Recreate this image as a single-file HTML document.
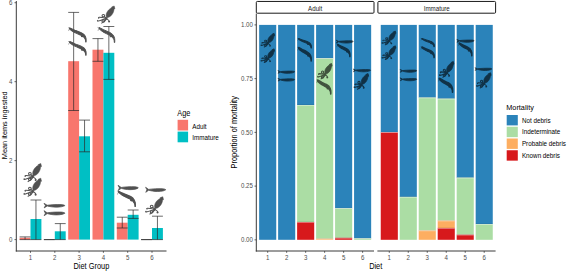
<!DOCTYPE html><html><head><meta charset="utf-8"><style>html,body{margin:0;padding:0;background:#fff;}svg{display:block}</style></head><body>
<svg width="567" height="271" viewBox="0 0 567 271" font-family='"Liberation Sans", sans-serif'>
<rect width="567" height="271" fill="#fff"/>
<rect x="19.60" y="237.80" width="10.90" height="1.80" fill="#F8766D"/>
<rect x="30.50" y="219.00" width="10.90" height="20.60" fill="#00BFC4"/>
<rect x="54.80" y="231.30" width="10.90" height="8.30" fill="#00BFC4"/>
<rect x="68.20" y="61.20" width="10.90" height="178.40" fill="#F8766D"/>
<rect x="79.10" y="136.30" width="10.90" height="103.30" fill="#00BFC4"/>
<rect x="92.50" y="49.70" width="10.90" height="189.90" fill="#F8766D"/>
<rect x="103.40" y="52.80" width="10.90" height="186.80" fill="#00BFC4"/>
<rect x="116.80" y="222.70" width="10.90" height="16.90" fill="#F8766D"/>
<rect x="127.70" y="214.80" width="10.90" height="24.80" fill="#00BFC4"/>
<rect x="152.00" y="228.00" width="10.90" height="11.60" fill="#00BFC4"/>
<g stroke="#2a2a2a" stroke-width="0.7" fill="none"><line x1="19.60" y1="236.90" x2="30.50" y2="236.90"/><line x1="19.60" y1="239.60" x2="30.50" y2="239.60"/><line x1="25.05" y1="236.90" x2="25.05" y2="239.60"/></g>
<g stroke="#2a2a2a" stroke-width="0.7" fill="none"><line x1="30.50" y1="200.00" x2="41.40" y2="200.00"/><line x1="30.50" y1="239.60" x2="41.40" y2="239.60"/><line x1="35.95" y1="200.00" x2="35.95" y2="239.60"/></g>
<g stroke="#2a2a2a" stroke-width="0.7" fill="none"><line x1="43.90" y1="239.60" x2="54.80" y2="239.60"/><line x1="43.90" y1="239.60" x2="54.80" y2="239.60"/><line x1="49.35" y1="239.60" x2="49.35" y2="239.60"/></g>
<g stroke="#2a2a2a" stroke-width="0.7" fill="none"><line x1="54.80" y1="223.60" x2="65.70" y2="223.60"/><line x1="54.80" y1="239.60" x2="65.70" y2="239.60"/><line x1="60.25" y1="223.60" x2="60.25" y2="239.60"/></g>
<g stroke="#2a2a2a" stroke-width="0.7" fill="none"><line x1="68.20" y1="12.40" x2="79.10" y2="12.40"/><line x1="68.20" y1="110.50" x2="79.10" y2="110.50"/><line x1="73.65" y1="12.40" x2="73.65" y2="110.50"/></g>
<g stroke="#2a2a2a" stroke-width="0.7" fill="none"><line x1="79.10" y1="120.10" x2="90.00" y2="120.10"/><line x1="79.10" y1="151.80" x2="90.00" y2="151.80"/><line x1="84.55" y1="120.10" x2="84.55" y2="151.80"/></g>
<g stroke="#2a2a2a" stroke-width="0.7" fill="none"><line x1="92.50" y1="38.60" x2="103.40" y2="38.60"/><line x1="92.50" y1="61.30" x2="103.40" y2="61.30"/><line x1="97.95" y1="38.60" x2="97.95" y2="61.30"/></g>
<g stroke="#2a2a2a" stroke-width="0.7" fill="none"><line x1="103.40" y1="26.50" x2="114.30" y2="26.50"/><line x1="103.40" y1="79.40" x2="114.30" y2="79.40"/><line x1="108.85" y1="26.50" x2="108.85" y2="79.40"/></g>
<g stroke="#2a2a2a" stroke-width="0.7" fill="none"><line x1="116.80" y1="217.20" x2="127.70" y2="217.20"/><line x1="116.80" y1="228.00" x2="127.70" y2="228.00"/><line x1="122.25" y1="217.20" x2="122.25" y2="228.00"/></g>
<g stroke="#2a2a2a" stroke-width="0.7" fill="none"><line x1="127.70" y1="210.00" x2="138.60" y2="210.00"/><line x1="127.70" y1="218.40" x2="138.60" y2="218.40"/><line x1="133.15" y1="210.00" x2="133.15" y2="218.40"/></g>
<g stroke="#2a2a2a" stroke-width="0.7" fill="none"><line x1="141.10" y1="239.60" x2="152.00" y2="239.60"/><line x1="141.10" y1="239.60" x2="152.00" y2="239.60"/><line x1="146.55" y1="239.60" x2="146.55" y2="239.60"/></g>
<g stroke="#2a2a2a" stroke-width="0.7" fill="none"><line x1="152.00" y1="216.20" x2="162.90" y2="216.20"/><line x1="152.00" y1="239.60" x2="162.90" y2="239.60"/><line x1="157.45" y1="216.20" x2="157.45" y2="239.60"/></g>
<g stroke="#3a3a3a" stroke-width="1" fill="none"><line x1="16.3" y1="1" x2="16.3" y2="251.5"/><line x1="15.8" y1="251.0" x2="166.5" y2="251.0"/></g>
<line x1="14.5" y1="239.60" x2="16.3" y2="239.60" stroke="#3a3a3a" stroke-width="0.8"/>
<text transform="translate(12.3,241.90) scale(0.9091,1)" font-size="6.71" fill="#4d4d4d" text-anchor="end">0</text>
<line x1="14.5" y1="160.64" x2="16.3" y2="160.64" stroke="#3a3a3a" stroke-width="0.8"/>
<text transform="translate(12.3,162.94) scale(0.9091,1)" font-size="6.71" fill="#4d4d4d" text-anchor="end">2</text>
<line x1="14.5" y1="81.68" x2="16.3" y2="81.68" stroke="#3a3a3a" stroke-width="0.8"/>
<text transform="translate(12.3,83.98) scale(0.9091,1)" font-size="6.71" fill="#4d4d4d" text-anchor="end">4</text>
<line x1="14.5" y1="2.72" x2="16.3" y2="2.72" stroke="#3a3a3a" stroke-width="0.8"/>
<text transform="translate(12.3,5.02) scale(0.9091,1)" font-size="6.71" fill="#4d4d4d" text-anchor="end">6</text>
<line x1="30.50" y1="251.0" x2="30.50" y2="252.8" stroke="#3a3a3a" stroke-width="0.8"/>
<text transform="translate(30.50,259.9) scale(0.9091,1)" font-size="6.71" fill="#4d4d4d" text-anchor="middle">1</text>
<line x1="54.80" y1="251.0" x2="54.80" y2="252.8" stroke="#3a3a3a" stroke-width="0.8"/>
<text transform="translate(54.80,259.9) scale(0.9091,1)" font-size="6.71" fill="#4d4d4d" text-anchor="middle">2</text>
<line x1="79.10" y1="251.0" x2="79.10" y2="252.8" stroke="#3a3a3a" stroke-width="0.8"/>
<text transform="translate(79.10,259.9) scale(0.9091,1)" font-size="6.71" fill="#4d4d4d" text-anchor="middle">3</text>
<line x1="103.40" y1="251.0" x2="103.40" y2="252.8" stroke="#3a3a3a" stroke-width="0.8"/>
<text transform="translate(103.40,259.9) scale(0.9091,1)" font-size="6.71" fill="#4d4d4d" text-anchor="middle">4</text>
<line x1="127.70" y1="251.0" x2="127.70" y2="252.8" stroke="#3a3a3a" stroke-width="0.8"/>
<text transform="translate(127.70,259.9) scale(0.9091,1)" font-size="6.71" fill="#4d4d4d" text-anchor="middle">5</text>
<line x1="152.00" y1="251.0" x2="152.00" y2="252.8" stroke="#3a3a3a" stroke-width="0.8"/>
<text transform="translate(152.00,259.9) scale(0.9091,1)" font-size="6.71" fill="#4d4d4d" text-anchor="middle">6</text>
<text transform="translate(91.4,268.6) scale(0.9091,1)" font-size="8.14" fill="#000" text-anchor="middle">Diet Group</text>
<text transform="translate(7.2,125.3) rotate(-90) scale(0.9091,1)" font-size="8.09" fill="#000" text-anchor="middle">Mean items ingested</text>
<g transform="translate(23.50,163.30) scale(1.0000,1.0000)" fill="#505050" stroke="#505050" stroke-width="0.5" opacity="1.0" stroke-linejoin="round"><path d="M16.80,1.40 L16.95,1.56 L17.05,1.83 L17.11,2.20 L17.13,2.67 L17.13,3.25 L17.08,3.90 L16.99,4.62 L16.83,5.38 L16.61,6.17 L16.32,6.96 L15.97,7.75 L15.56,8.51 L15.10,9.25 L14.59,9.94 L14.03,10.56 L13.41,11.09 L12.76,11.54 L12.11,11.90 L11.48,12.18 L10.92,12.39 L10.44,12.54 L10.07,12.63 L9.79,12.65 L9.60,12.60 L9.47,12.45 L9.38,12.19 L9.31,11.81 L9.25,11.31 L9.20,10.71 L9.20,10.02 L9.25,9.28 L9.39,8.51 L9.62,7.73 L9.94,6.96 L10.36,6.21 L10.84,5.49 L11.37,4.79 L11.94,4.14 L12.54,3.55 L13.17,3.02 L13.80,2.57 L14.41,2.18 L14.99,1.87 L15.50,1.63 L15.95,1.45 L16.31,1.35 L16.59,1.33 Z"/><path d="M17.3,0.2 L18.0,3.3 L15.9,2.9 L14.7,1.3 Z"/><ellipse cx="9.3" cy="13.2" rx="1.0" ry="0.9"/><g fill="none" stroke-width="1.05" stroke-linecap="round"><path d="M9.0,12.8 C8.4,12.2 7.8,11.8 7.4,11.4"/><ellipse cx="6.4" cy="10.4" rx="1.35" ry="1.25"/><path d="M8.8,13.2 C6.8,12.8 4.6,12.4 2.4,12.2 C1.4,12.1 1.2,12.9 1.8,13.2"/><path d="M8.8,13.6 C6.6,14.4 4,15.4 1.2,16.2 C0.4,16.4 0.2,15.6 0.8,15.4"/><path d="M9.0,14.0 C8.4,14.6 7.8,15.0 7.2,15.2"/><ellipse cx="6.2" cy="16.0" rx="1.25" ry="1.2"/><path d="M9.4,14.0 C8.6,15.8 7.0,17.4 4.6,18.3"/><path d="M9.8,13.8 C11.0,14.6 12.2,15.4 12.6,16.4 C12.8,17.2 11.8,17.4 11.6,16.6"/></g></g>
<g transform="translate(23.50,178.00) scale(1.0000,1.0000)" fill="#505050" stroke="#505050" stroke-width="0.5" opacity="1.0" stroke-linejoin="round"><path d="M16.80,1.40 L16.95,1.56 L17.05,1.83 L17.11,2.20 L17.13,2.67 L17.13,3.25 L17.08,3.90 L16.99,4.62 L16.83,5.38 L16.61,6.17 L16.32,6.96 L15.97,7.75 L15.56,8.51 L15.10,9.25 L14.59,9.94 L14.03,10.56 L13.41,11.09 L12.76,11.54 L12.11,11.90 L11.48,12.18 L10.92,12.39 L10.44,12.54 L10.07,12.63 L9.79,12.65 L9.60,12.60 L9.47,12.45 L9.38,12.19 L9.31,11.81 L9.25,11.31 L9.20,10.71 L9.20,10.02 L9.25,9.28 L9.39,8.51 L9.62,7.73 L9.94,6.96 L10.36,6.21 L10.84,5.49 L11.37,4.79 L11.94,4.14 L12.54,3.55 L13.17,3.02 L13.80,2.57 L14.41,2.18 L14.99,1.87 L15.50,1.63 L15.95,1.45 L16.31,1.35 L16.59,1.33 Z"/><path d="M17.3,0.2 L18.0,3.3 L15.9,2.9 L14.7,1.3 Z"/><ellipse cx="9.3" cy="13.2" rx="1.0" ry="0.9"/><g fill="none" stroke-width="1.05" stroke-linecap="round"><path d="M9.0,12.8 C8.4,12.2 7.8,11.8 7.4,11.4"/><ellipse cx="6.4" cy="10.4" rx="1.35" ry="1.25"/><path d="M8.8,13.2 C6.8,12.8 4.6,12.4 2.4,12.2 C1.4,12.1 1.2,12.9 1.8,13.2"/><path d="M8.8,13.6 C6.6,14.4 4,15.4 1.2,16.2 C0.4,16.4 0.2,15.6 0.8,15.4"/><path d="M9.0,14.0 C8.4,14.6 7.8,15.0 7.2,15.2"/><ellipse cx="6.2" cy="16.0" rx="1.25" ry="1.2"/><path d="M9.4,14.0 C8.6,15.8 7.0,17.4 4.6,18.3"/><path d="M9.8,13.8 C11.0,14.6 12.2,15.4 12.6,16.4 C12.8,17.2 11.8,17.4 11.6,16.6"/></g></g>
<g transform="translate(44.00,203.30) scale(0.9952,0.9200)" fill="#505050" stroke="#505050" stroke-width="0.75" opacity="1.0" stroke-linejoin="round"><path d="M0,0 L3.2,2.1 C7,1.5 13,1.2 17.5,1.4 C19.5,1.6 21,2.1 21,2.5 C20,3.3 17,4.2 12.5,4.2 C8.5,4.2 5.5,3.5 3.2,2.9 L0.2,5 L1.4,2.5 Z"/></g>
<g transform="translate(44.00,210.70) scale(0.9952,1.0000)" fill="#505050" stroke="#505050" stroke-width="0.75" opacity="1.0" stroke-linejoin="round"><path d="M0,0 L3.2,2.1 C7,1.5 13,1.2 17.5,1.4 C19.5,1.6 21,2.1 21,2.5 C20,3.3 17,4.2 12.5,4.2 C8.5,4.2 5.5,3.5 3.2,2.9 L0.2,5 L1.4,2.5 Z"/></g>
<g transform="translate(68.30,27.80) scale(1.0222,0.9467)" fill="#505050" stroke="#505050" stroke-width="1.0" opacity="1.0" stroke-linejoin="round"><path d="M1.4,0 C3,0.8 4.6,1.6 6.3,2.4 C8.5,3.3 10.5,4.1 12,4.8 C13.4,5.5 14.4,6.2 15.2,6.9 C16.4,8.2 17.1,9.6 17.3,11 C17.5,12.4 17.5,13.8 17.4,15 L17.0,15 C17,13.8 16.9,12.6 16.4,11.7 C15.6,10.2 14.5,9.0 13.2,8.3 C11.8,7.5 10.2,6.8 8.7,6.1 C7.2,5.4 5.8,4.7 4.6,3.9 C3.4,3.1 2.2,2.1 1.2,1.1 Z"/><ellipse cx="13.6" cy="8.9" rx="0.8" ry="0.6"/><g fill="none" stroke-width="0.45" stroke-linecap="round"><path d="M1.6,0.4 C1.1,0.2 0.6,0.1 0.1,0"/><path d="M1.4,0.8 C0.9,1.4 0.5,2.2 0.3,3.0"/></g></g>
<g transform="translate(68.30,41.50) scale(1.0222,0.9200)" fill="#505050" stroke="#505050" stroke-width="1.0" opacity="1.0" stroke-linejoin="round"><path d="M1.4,0 C3,0.8 4.6,1.6 6.3,2.4 C8.5,3.3 10.5,4.1 12,4.8 C13.4,5.5 14.4,6.2 15.2,6.9 C16.4,8.2 17.1,9.6 17.3,11 C17.5,12.4 17.5,13.8 17.4,15 L17.0,15 C17,13.8 16.9,12.6 16.4,11.7 C15.6,10.2 14.5,9.0 13.2,8.3 C11.8,7.5 10.2,6.8 8.7,6.1 C7.2,5.4 5.8,4.7 4.6,3.9 C3.4,3.1 2.2,2.1 1.2,1.1 Z"/><ellipse cx="13.6" cy="8.9" rx="0.8" ry="0.6"/><g fill="none" stroke-width="0.45" stroke-linecap="round"><path d="M1.6,0.4 C1.1,0.2 0.6,0.1 0.1,0"/><path d="M1.4,0.8 C0.9,1.4 0.5,2.2 0.3,3.0"/></g></g>
<g transform="translate(97.00,5.80) scale(0.9945,0.9459)" fill="#505050" stroke="#505050" stroke-width="0.5" opacity="1.0" stroke-linejoin="round"><path d="M16.80,1.40 L16.95,1.56 L17.05,1.83 L17.11,2.20 L17.13,2.67 L17.13,3.25 L17.08,3.90 L16.99,4.62 L16.83,5.38 L16.61,6.17 L16.32,6.96 L15.97,7.75 L15.56,8.51 L15.10,9.25 L14.59,9.94 L14.03,10.56 L13.41,11.09 L12.76,11.54 L12.11,11.90 L11.48,12.18 L10.92,12.39 L10.44,12.54 L10.07,12.63 L9.79,12.65 L9.60,12.60 L9.47,12.45 L9.38,12.19 L9.31,11.81 L9.25,11.31 L9.20,10.71 L9.20,10.02 L9.25,9.28 L9.39,8.51 L9.62,7.73 L9.94,6.96 L10.36,6.21 L10.84,5.49 L11.37,4.79 L11.94,4.14 L12.54,3.55 L13.17,3.02 L13.80,2.57 L14.41,2.18 L14.99,1.87 L15.50,1.63 L15.95,1.45 L16.31,1.35 L16.59,1.33 Z"/><path d="M17.3,0.2 L18.0,3.3 L15.9,2.9 L14.7,1.3 Z"/><ellipse cx="9.3" cy="13.2" rx="1.0" ry="0.9"/><g fill="none" stroke-width="1.05" stroke-linecap="round"><path d="M9.0,12.8 C8.4,12.2 7.8,11.8 7.4,11.4"/><ellipse cx="6.4" cy="10.4" rx="1.35" ry="1.25"/><path d="M8.8,13.2 C6.8,12.8 4.6,12.4 2.4,12.2 C1.4,12.1 1.2,12.9 1.8,13.2"/><path d="M8.8,13.6 C6.6,14.4 4,15.4 1.2,16.2 C0.4,16.4 0.2,15.6 0.8,15.4"/><path d="M9.0,14.0 C8.4,14.6 7.8,15.0 7.2,15.2"/><ellipse cx="6.2" cy="16.0" rx="1.25" ry="1.2"/><path d="M9.4,14.0 C8.6,15.8 7.0,17.4 4.6,18.3"/><path d="M9.8,13.8 C11.0,14.6 12.2,15.4 12.6,16.4 C12.8,17.2 11.8,17.4 11.6,16.6"/></g></g>
<g transform="translate(97.80,27.50) scale(0.9722,1.0000)" fill="#505050" stroke="#505050" stroke-width="1.0" opacity="1.0" stroke-linejoin="round"><path d="M1.4,0 C3,0.8 4.6,1.6 6.3,2.4 C8.5,3.3 10.5,4.1 12,4.8 C13.4,5.5 14.4,6.2 15.2,6.9 C16.4,8.2 17.1,9.6 17.3,11 C17.5,12.4 17.5,13.8 17.4,15 L17.0,15 C17,13.8 16.9,12.6 16.4,11.7 C15.6,10.2 14.5,9.0 13.2,8.3 C11.8,7.5 10.2,6.8 8.7,6.1 C7.2,5.4 5.8,4.7 4.6,3.9 C3.4,3.1 2.2,2.1 1.2,1.1 Z"/><ellipse cx="13.6" cy="8.9" rx="0.8" ry="0.6"/><g fill="none" stroke-width="0.45" stroke-linecap="round"><path d="M1.6,0.4 C1.1,0.2 0.6,0.1 0.1,0"/><path d="M1.4,0.8 C0.9,1.4 0.5,2.2 0.3,3.0"/></g></g>
<g transform="translate(118.10,185.30) scale(0.9619,1.0400)" fill="#505050" stroke="#505050" stroke-width="0.75" opacity="1.0" stroke-linejoin="round"><path d="M0,0 L3.2,2.1 C7,1.5 13,1.2 17.5,1.4 C19.5,1.6 21,2.1 21,2.5 C20,3.3 17,4.2 12.5,4.2 C8.5,4.2 5.5,3.5 3.2,2.9 L0.2,5 L1.4,2.5 Z"/></g>
<g transform="translate(117.20,191.10) scale(1.0444,1.0333)" fill="#505050" stroke="#505050" stroke-width="1.0" opacity="1.0" stroke-linejoin="round"><path d="M1.4,0 C3,0.8 4.6,1.6 6.3,2.4 C8.5,3.3 10.5,4.1 12,4.8 C13.4,5.5 14.4,6.2 15.2,6.9 C16.4,8.2 17.1,9.6 17.3,11 C17.5,12.4 17.5,13.8 17.4,15 L17.0,15 C17,13.8 16.9,12.6 16.4,11.7 C15.6,10.2 14.5,9.0 13.2,8.3 C11.8,7.5 10.2,6.8 8.7,6.1 C7.2,5.4 5.8,4.7 4.6,3.9 C3.4,3.1 2.2,2.1 1.2,1.1 Z"/><ellipse cx="13.6" cy="8.9" rx="0.8" ry="0.6"/><g fill="none" stroke-width="0.45" stroke-linecap="round"><path d="M1.6,0.4 C1.1,0.2 0.6,0.1 0.1,0"/><path d="M1.4,0.8 C0.9,1.4 0.5,2.2 0.3,3.0"/></g></g>
<g transform="translate(145.60,187.30) scale(0.9619,1.0000)" fill="#505050" stroke="#505050" stroke-width="0.75" opacity="1.0" stroke-linejoin="round"><path d="M0,0 L3.2,2.1 C7,1.5 13,1.2 17.5,1.4 C19.5,1.6 21,2.1 21,2.5 C20,3.3 17,4.2 12.5,4.2 C8.5,4.2 5.5,3.5 3.2,2.9 L0.2,5 L1.4,2.5 Z"/></g>
<g transform="translate(145.20,196.50) scale(1.0166,0.9568)" fill="#505050" stroke="#505050" stroke-width="0.5" opacity="1.0" stroke-linejoin="round"><path d="M16.80,1.40 L16.95,1.56 L17.05,1.83 L17.11,2.20 L17.13,2.67 L17.13,3.25 L17.08,3.90 L16.99,4.62 L16.83,5.38 L16.61,6.17 L16.32,6.96 L15.97,7.75 L15.56,8.51 L15.10,9.25 L14.59,9.94 L14.03,10.56 L13.41,11.09 L12.76,11.54 L12.11,11.90 L11.48,12.18 L10.92,12.39 L10.44,12.54 L10.07,12.63 L9.79,12.65 L9.60,12.60 L9.47,12.45 L9.38,12.19 L9.31,11.81 L9.25,11.31 L9.20,10.71 L9.20,10.02 L9.25,9.28 L9.39,8.51 L9.62,7.73 L9.94,6.96 L10.36,6.21 L10.84,5.49 L11.37,4.79 L11.94,4.14 L12.54,3.55 L13.17,3.02 L13.80,2.57 L14.41,2.18 L14.99,1.87 L15.50,1.63 L15.95,1.45 L16.31,1.35 L16.59,1.33 Z"/><path d="M17.3,0.2 L18.0,3.3 L15.9,2.9 L14.7,1.3 Z"/><ellipse cx="9.3" cy="13.2" rx="1.0" ry="0.9"/><g fill="none" stroke-width="1.05" stroke-linecap="round"><path d="M9.0,12.8 C8.4,12.2 7.8,11.8 7.4,11.4"/><ellipse cx="6.4" cy="10.4" rx="1.35" ry="1.25"/><path d="M8.8,13.2 C6.8,12.8 4.6,12.4 2.4,12.2 C1.4,12.1 1.2,12.9 1.8,13.2"/><path d="M8.8,13.6 C6.6,14.4 4,15.4 1.2,16.2 C0.4,16.4 0.2,15.6 0.8,15.4"/><path d="M9.0,14.0 C8.4,14.6 7.8,15.0 7.2,15.2"/><ellipse cx="6.2" cy="16.0" rx="1.25" ry="1.2"/><path d="M9.4,14.0 C8.6,15.8 7.0,17.4 4.6,18.3"/><path d="M9.8,13.8 C11.0,14.6 12.2,15.4 12.6,16.4 C12.8,17.2 11.8,17.4 11.6,16.6"/></g></g>
<text transform="translate(177.2,116.1) scale(0.9091,1)" font-size="8.14" fill="#000">Age</text>
<rect x="177.6" y="119.8" width="10.5" height="10.7" fill="#F8766D"/>
<rect x="177.6" y="131.6" width="10.5" height="10.7" fill="#00BFC4"/>
<text transform="translate(192.2,128.8) scale(0.9091,1)" font-size="6.93" fill="#000">Adult</text>
<text transform="translate(192.2,140.4) scale(0.9091,1)" font-size="6.93" fill="#000">Immature</text>
<rect x="259.15" y="24.90" width="17.09" height="214.90" fill="#2B83BA"/>
<rect x="278.13" y="24.90" width="17.09" height="214.90" fill="#2B83BA"/>
<rect x="297.12" y="24.90" width="17.09" height="80.10" fill="#2B83BA"/>
<rect x="297.12" y="105.00" width="17.09" height="117.00" fill="#ABDDA4"/>
<rect x="297.12" y="222.00" width="17.09" height="17.80" fill="#D7191C"/>
<rect x="297.12" y="104.55" width="17.09" height="0.5" fill="#000" opacity="0.15"/>
<rect x="297.12" y="105.00" width="17.09" height="0.7" fill="#fff" opacity="0.55"/>
<rect x="297.12" y="221.55" width="17.09" height="0.5" fill="#000" opacity="0.15"/>
<rect x="297.12" y="222.00" width="17.09" height="0.7" fill="#fff" opacity="0.55"/>
<rect x="316.10" y="24.90" width="17.09" height="33.40" fill="#2B83BA"/>
<rect x="316.10" y="58.30" width="17.09" height="180.40" fill="#ABDDA4"/>
<rect x="316.10" y="238.70" width="17.09" height="1.10" fill="#FDAE61"/>
<rect x="316.10" y="57.85" width="17.09" height="0.5" fill="#000" opacity="0.15"/>
<rect x="316.10" y="58.30" width="17.09" height="0.7" fill="#fff" opacity="0.55"/>
<rect x="316.10" y="238.25" width="17.09" height="0.5" fill="#000" opacity="0.15"/>
<rect x="316.10" y="238.70" width="17.09" height="0.7" fill="#fff" opacity="0.55"/>
<rect x="335.08" y="24.90" width="17.09" height="183.40" fill="#2B83BA"/>
<rect x="335.08" y="208.30" width="17.09" height="29.50" fill="#ABDDA4"/>
<rect x="335.08" y="237.80" width="17.09" height="2.00" fill="#D7191C"/>
<rect x="335.08" y="207.85" width="17.09" height="0.5" fill="#000" opacity="0.15"/>
<rect x="335.08" y="208.30" width="17.09" height="0.7" fill="#fff" opacity="0.55"/>
<rect x="335.08" y="237.35" width="17.09" height="0.5" fill="#000" opacity="0.15"/>
<rect x="335.08" y="237.80" width="17.09" height="0.7" fill="#fff" opacity="0.55"/>
<rect x="354.07" y="24.90" width="17.09" height="213.50" fill="#2B83BA"/>
<rect x="354.07" y="238.40" width="17.09" height="1.40" fill="#ABDDA4"/>
<rect x="354.07" y="237.95" width="17.09" height="0.5" fill="#000" opacity="0.15"/>
<rect x="354.07" y="238.40" width="17.09" height="0.7" fill="#fff" opacity="0.55"/>
<rect x="256.30" y="1.45" width="117.70" height="11.75" rx="1" fill="#fff" stroke="#1a1a1a" stroke-width="1"/>
<text transform="translate(315.15,10.7) scale(0.9091,1)" font-size="6.82" fill="#1a1a1a" text-anchor="middle">Adult</text>
<line x1="255.80" y1="251.0" x2="374.00" y2="251.0" stroke="#3a3a3a" stroke-width="1"/>
<line x1="267.69" y1="251.0" x2="267.69" y2="252.8" stroke="#3a3a3a" stroke-width="0.8"/>
<text transform="translate(267.69,259.9) scale(0.9091,1)" font-size="6.71" fill="#4d4d4d" text-anchor="middle">1</text>
<line x1="286.67" y1="251.0" x2="286.67" y2="252.8" stroke="#3a3a3a" stroke-width="0.8"/>
<text transform="translate(286.67,259.9) scale(0.9091,1)" font-size="6.71" fill="#4d4d4d" text-anchor="middle">2</text>
<line x1="305.66" y1="251.0" x2="305.66" y2="252.8" stroke="#3a3a3a" stroke-width="0.8"/>
<text transform="translate(305.66,259.9) scale(0.9091,1)" font-size="6.71" fill="#4d4d4d" text-anchor="middle">3</text>
<line x1="324.64" y1="251.0" x2="324.64" y2="252.8" stroke="#3a3a3a" stroke-width="0.8"/>
<text transform="translate(324.64,259.9) scale(0.9091,1)" font-size="6.71" fill="#4d4d4d" text-anchor="middle">4</text>
<line x1="343.63" y1="251.0" x2="343.63" y2="252.8" stroke="#3a3a3a" stroke-width="0.8"/>
<text transform="translate(343.63,259.9) scale(0.9091,1)" font-size="6.71" fill="#4d4d4d" text-anchor="middle">5</text>
<line x1="362.61" y1="251.0" x2="362.61" y2="252.8" stroke="#3a3a3a" stroke-width="0.8"/>
<text transform="translate(362.61,259.9) scale(0.9091,1)" font-size="6.71" fill="#4d4d4d" text-anchor="middle">6</text>
<rect x="380.75" y="24.90" width="17.09" height="107.40" fill="#2B83BA"/>
<rect x="380.75" y="132.30" width="17.09" height="107.50" fill="#D7191C"/>
<rect x="380.75" y="131.85" width="17.09" height="0.5" fill="#000" opacity="0.15"/>
<rect x="380.75" y="132.30" width="17.09" height="0.7" fill="#fff" opacity="0.55"/>
<rect x="399.73" y="24.90" width="17.09" height="172.00" fill="#2B83BA"/>
<rect x="399.73" y="196.90" width="17.09" height="42.90" fill="#ABDDA4"/>
<rect x="399.73" y="196.45" width="17.09" height="0.5" fill="#000" opacity="0.15"/>
<rect x="399.73" y="196.90" width="17.09" height="0.7" fill="#fff" opacity="0.55"/>
<rect x="418.72" y="24.90" width="17.09" height="72.70" fill="#2B83BA"/>
<rect x="418.72" y="97.60" width="17.09" height="132.90" fill="#ABDDA4"/>
<rect x="418.72" y="230.50" width="17.09" height="9.30" fill="#FDAE61"/>
<rect x="418.72" y="97.15" width="17.09" height="0.5" fill="#000" opacity="0.15"/>
<rect x="418.72" y="97.60" width="17.09" height="0.7" fill="#fff" opacity="0.55"/>
<rect x="418.72" y="230.05" width="17.09" height="0.5" fill="#000" opacity="0.15"/>
<rect x="418.72" y="230.50" width="17.09" height="0.7" fill="#fff" opacity="0.55"/>
<rect x="437.70" y="24.90" width="17.09" height="73.80" fill="#2B83BA"/>
<rect x="437.70" y="98.70" width="17.09" height="121.90" fill="#ABDDA4"/>
<rect x="437.70" y="220.60" width="17.09" height="7.40" fill="#FDAE61"/>
<rect x="437.70" y="228.00" width="17.09" height="11.80" fill="#D7191C"/>
<rect x="437.70" y="98.25" width="17.09" height="0.5" fill="#000" opacity="0.15"/>
<rect x="437.70" y="98.70" width="17.09" height="0.7" fill="#fff" opacity="0.55"/>
<rect x="437.70" y="220.15" width="17.09" height="0.5" fill="#000" opacity="0.15"/>
<rect x="437.70" y="220.60" width="17.09" height="0.7" fill="#fff" opacity="0.55"/>
<rect x="437.70" y="227.55" width="17.09" height="0.5" fill="#000" opacity="0.15"/>
<rect x="437.70" y="228.00" width="17.09" height="0.7" fill="#fff" opacity="0.55"/>
<rect x="456.68" y="24.90" width="17.09" height="152.80" fill="#2B83BA"/>
<rect x="456.68" y="177.70" width="17.09" height="57.00" fill="#ABDDA4"/>
<rect x="456.68" y="234.70" width="17.09" height="5.10" fill="#D7191C"/>
<rect x="456.68" y="177.25" width="17.09" height="0.5" fill="#000" opacity="0.15"/>
<rect x="456.68" y="177.70" width="17.09" height="0.7" fill="#fff" opacity="0.55"/>
<rect x="456.68" y="234.25" width="17.09" height="0.5" fill="#000" opacity="0.15"/>
<rect x="456.68" y="234.70" width="17.09" height="0.7" fill="#fff" opacity="0.55"/>
<rect x="475.67" y="24.90" width="17.09" height="199.20" fill="#2B83BA"/>
<rect x="475.67" y="224.10" width="17.09" height="15.70" fill="#ABDDA4"/>
<rect x="475.67" y="223.65" width="17.09" height="0.5" fill="#000" opacity="0.15"/>
<rect x="475.67" y="224.10" width="17.09" height="0.7" fill="#fff" opacity="0.55"/>
<rect x="377.90" y="1.45" width="117.70" height="11.75" rx="1" fill="#fff" stroke="#1a1a1a" stroke-width="1"/>
<text transform="translate(436.75,10.7) scale(0.9091,1)" font-size="6.82" fill="#1a1a1a" text-anchor="middle">Immature</text>
<line x1="377.40" y1="251.0" x2="495.60" y2="251.0" stroke="#3a3a3a" stroke-width="1"/>
<line x1="389.29" y1="251.0" x2="389.29" y2="252.8" stroke="#3a3a3a" stroke-width="0.8"/>
<text transform="translate(389.29,259.9) scale(0.9091,1)" font-size="6.71" fill="#4d4d4d" text-anchor="middle">1</text>
<line x1="408.27" y1="251.0" x2="408.27" y2="252.8" stroke="#3a3a3a" stroke-width="0.8"/>
<text transform="translate(408.27,259.9) scale(0.9091,1)" font-size="6.71" fill="#4d4d4d" text-anchor="middle">2</text>
<line x1="427.26" y1="251.0" x2="427.26" y2="252.8" stroke="#3a3a3a" stroke-width="0.8"/>
<text transform="translate(427.26,259.9) scale(0.9091,1)" font-size="6.71" fill="#4d4d4d" text-anchor="middle">3</text>
<line x1="446.24" y1="251.0" x2="446.24" y2="252.8" stroke="#3a3a3a" stroke-width="0.8"/>
<text transform="translate(446.24,259.9) scale(0.9091,1)" font-size="6.71" fill="#4d4d4d" text-anchor="middle">4</text>
<line x1="465.23" y1="251.0" x2="465.23" y2="252.8" stroke="#3a3a3a" stroke-width="0.8"/>
<text transform="translate(465.23,259.9) scale(0.9091,1)" font-size="6.71" fill="#4d4d4d" text-anchor="middle">5</text>
<line x1="484.21" y1="251.0" x2="484.21" y2="252.8" stroke="#3a3a3a" stroke-width="0.8"/>
<text transform="translate(484.21,259.9) scale(0.9091,1)" font-size="6.71" fill="#4d4d4d" text-anchor="middle">6</text>
<line x1="256.3" y1="13.6" x2="256.3" y2="251.5" stroke="#3a3a3a" stroke-width="1"/>
<line x1="254.5" y1="239.85" x2="256.3" y2="239.85" stroke="#3a3a3a" stroke-width="0.8"/>
<text transform="translate(252.9,242.15) scale(0.9091,1)" font-size="6.71" fill="#4d4d4d" text-anchor="end">0.00</text>
<line x1="254.5" y1="186.11" x2="256.3" y2="186.11" stroke="#3a3a3a" stroke-width="0.8"/>
<text transform="translate(252.9,188.41) scale(0.9091,1)" font-size="6.71" fill="#4d4d4d" text-anchor="end">0.25</text>
<line x1="254.5" y1="132.38" x2="256.3" y2="132.38" stroke="#3a3a3a" stroke-width="0.8"/>
<text transform="translate(252.9,134.68) scale(0.9091,1)" font-size="6.71" fill="#4d4d4d" text-anchor="end">0.50</text>
<line x1="254.5" y1="78.64" x2="256.3" y2="78.64" stroke="#3a3a3a" stroke-width="0.8"/>
<text transform="translate(252.9,80.94) scale(0.9091,1)" font-size="6.71" fill="#4d4d4d" text-anchor="end">0.75</text>
<line x1="254.5" y1="24.90" x2="256.3" y2="24.90" stroke="#3a3a3a" stroke-width="0.8"/>
<text transform="translate(252.9,27.20) scale(0.9091,1)" font-size="6.71" fill="#4d4d4d" text-anchor="end">1.00</text>
<text transform="translate(375.7,268.6) scale(0.9091,1)" font-size="8.14" fill="#000" text-anchor="middle">Diet</text>
<text transform="translate(237.4,132.3) rotate(-90) scale(0.9091,1)" font-size="8.14" fill="#000" text-anchor="middle">Proportion of mortality</text>
<g transform="translate(260.70,33.20) scale(0.7735,0.7568)" fill="#000" stroke="#000" stroke-width="1.0" opacity="0.62" stroke-linejoin="round"><path d="M16.80,1.40 L16.95,1.56 L17.05,1.83 L17.11,2.20 L17.13,2.67 L17.13,3.25 L17.08,3.90 L16.99,4.62 L16.83,5.38 L16.61,6.17 L16.32,6.96 L15.97,7.75 L15.56,8.51 L15.10,9.25 L14.59,9.94 L14.03,10.56 L13.41,11.09 L12.76,11.54 L12.11,11.90 L11.48,12.18 L10.92,12.39 L10.44,12.54 L10.07,12.63 L9.79,12.65 L9.60,12.60 L9.47,12.45 L9.38,12.19 L9.31,11.81 L9.25,11.31 L9.20,10.71 L9.20,10.02 L9.25,9.28 L9.39,8.51 L9.62,7.73 L9.94,6.96 L10.36,6.21 L10.84,5.49 L11.37,4.79 L11.94,4.14 L12.54,3.55 L13.17,3.02 L13.80,2.57 L14.41,2.18 L14.99,1.87 L15.50,1.63 L15.95,1.45 L16.31,1.35 L16.59,1.33 Z"/><path d="M17.3,0.2 L18.0,3.3 L15.9,2.9 L14.7,1.3 Z"/><ellipse cx="9.3" cy="13.2" rx="1.0" ry="0.9"/><g fill="none" stroke-width="1.3" stroke-linecap="round"><path d="M9.0,12.8 C8.4,12.2 7.8,11.8 7.4,11.4"/><ellipse cx="6.4" cy="10.4" rx="1.35" ry="1.25"/><path d="M8.8,13.2 C6.8,12.8 4.6,12.4 2.4,12.2 C1.4,12.1 1.2,12.9 1.8,13.2"/><path d="M8.8,13.6 C6.6,14.4 4,15.4 1.2,16.2 C0.4,16.4 0.2,15.6 0.8,15.4"/><path d="M9.0,14.0 C8.4,14.6 7.8,15.0 7.2,15.2"/><ellipse cx="6.2" cy="16.0" rx="1.25" ry="1.2"/><path d="M9.4,14.0 C8.6,15.8 7.0,17.4 4.6,18.3"/><path d="M9.8,13.8 C11.0,14.6 12.2,15.4 12.6,16.4 C12.8,17.2 11.8,17.4 11.6,16.6"/></g></g>
<g transform="translate(260.70,48.70) scale(0.7735,0.7568)" fill="#000" stroke="#000" stroke-width="1.0" opacity="0.62" stroke-linejoin="round"><path d="M16.80,1.40 L16.95,1.56 L17.05,1.83 L17.11,2.20 L17.13,2.67 L17.13,3.25 L17.08,3.90 L16.99,4.62 L16.83,5.38 L16.61,6.17 L16.32,6.96 L15.97,7.75 L15.56,8.51 L15.10,9.25 L14.59,9.94 L14.03,10.56 L13.41,11.09 L12.76,11.54 L12.11,11.90 L11.48,12.18 L10.92,12.39 L10.44,12.54 L10.07,12.63 L9.79,12.65 L9.60,12.60 L9.47,12.45 L9.38,12.19 L9.31,11.81 L9.25,11.31 L9.20,10.71 L9.20,10.02 L9.25,9.28 L9.39,8.51 L9.62,7.73 L9.94,6.96 L10.36,6.21 L10.84,5.49 L11.37,4.79 L11.94,4.14 L12.54,3.55 L13.17,3.02 L13.80,2.57 L14.41,2.18 L14.99,1.87 L15.50,1.63 L15.95,1.45 L16.31,1.35 L16.59,1.33 Z"/><path d="M17.3,0.2 L18.0,3.3 L15.9,2.9 L14.7,1.3 Z"/><ellipse cx="9.3" cy="13.2" rx="1.0" ry="0.9"/><g fill="none" stroke-width="1.3" stroke-linecap="round"><path d="M9.0,12.8 C8.4,12.2 7.8,11.8 7.4,11.4"/><ellipse cx="6.4" cy="10.4" rx="1.35" ry="1.25"/><path d="M8.8,13.2 C6.8,12.8 4.6,12.4 2.4,12.2 C1.4,12.1 1.2,12.9 1.8,13.2"/><path d="M8.8,13.6 C6.6,14.4 4,15.4 1.2,16.2 C0.4,16.4 0.2,15.6 0.8,15.4"/><path d="M9.0,14.0 C8.4,14.6 7.8,15.0 7.2,15.2"/><ellipse cx="6.2" cy="16.0" rx="1.25" ry="1.2"/><path d="M9.4,14.0 C8.6,15.8 7.0,17.4 4.6,18.3"/><path d="M9.8,13.8 C11.0,14.6 12.2,15.4 12.6,16.4 C12.8,17.2 11.8,17.4 11.6,16.6"/></g></g>
<g transform="translate(277.90,70.20) scale(0.8000,0.7200)" fill="#000" stroke="#000" stroke-width="1.0" opacity="0.62" stroke-linejoin="round"><path d="M0,0.4 L3,2.0 C7,1.4 14,1.1 18.5,1.3 C20,1.4 21,1.9 21,2.3 C20.2,3.2 17.5,4.3 13,4.4 C8.5,4.5 5.5,3.6 3,2.7 L0.2,4.4 L1.3,2.3 Z"/></g>
<g transform="translate(277.90,77.95) scale(0.8000,0.7200)" fill="#000" stroke="#000" stroke-width="1.0" opacity="0.62" stroke-linejoin="round"><path d="M0,0.4 L3,2.0 C7,1.4 14,1.1 18.5,1.3 C20,1.4 21,1.9 21,2.3 C20.2,3.2 17.5,4.3 13,4.4 C8.5,4.5 5.5,3.6 3,2.7 L0.2,4.4 L1.3,2.3 Z"/></g>
<g transform="translate(297.60,38.40) scale(0.7889,0.6467)" fill="#000" stroke="#000" stroke-width="1.5" opacity="0.62" stroke-linejoin="round"><path d="M1.4,0 C3,0.8 4.6,1.6 6.3,2.4 C8.5,3.3 10.5,4.1 12,4.8 C13.4,5.5 14.4,6.2 15.2,6.9 C16.4,8.2 17.1,9.6 17.3,11 C17.5,12.4 17.5,13.8 17.4,15 L17.0,15 C17,13.8 16.9,12.6 16.4,11.7 C15.6,10.2 14.5,9.0 13.2,8.3 C11.8,7.5 10.2,6.8 8.7,6.1 C7.2,5.4 5.8,4.7 4.6,3.9 C3.4,3.1 2.2,2.1 1.2,1.1 Z"/><ellipse cx="13.6" cy="8.9" rx="0.8" ry="0.6"/><g fill="none" stroke-width="0.45" stroke-linecap="round"><path d="M1.6,0.4 C1.1,0.2 0.6,0.1 0.1,0"/><path d="M1.4,0.8 C0.9,1.4 0.5,2.2 0.3,3.0"/></g></g>
<g transform="translate(297.60,47.40) scale(0.7889,0.9067)" fill="#000" stroke="#000" stroke-width="1.5" opacity="0.62" stroke-linejoin="round"><path d="M1.4,0 C3,0.8 4.6,1.6 6.3,2.4 C8.5,3.3 10.5,4.1 12,4.8 C13.4,5.5 14.4,6.2 15.2,6.9 C16.4,8.2 17.1,9.6 17.3,11 C17.5,12.4 17.5,13.8 17.4,15 L17.0,15 C17,13.8 16.9,12.6 16.4,11.7 C15.6,10.2 14.5,9.0 13.2,8.3 C11.8,7.5 10.2,6.8 8.7,6.1 C7.2,5.4 5.8,4.7 4.6,3.9 C3.4,3.1 2.2,2.1 1.2,1.1 Z"/><ellipse cx="13.6" cy="8.9" rx="0.8" ry="0.6"/><g fill="none" stroke-width="0.45" stroke-linecap="round"><path d="M1.6,0.4 C1.1,0.2 0.6,0.1 0.1,0"/><path d="M1.4,0.8 C0.9,1.4 0.5,2.2 0.3,3.0"/></g></g>
<g transform="translate(317.30,63.30) scale(0.8232,0.8486)" fill="#000" stroke="#000" stroke-width="1.0" opacity="0.62" stroke-linejoin="round"><path d="M16.80,1.40 L16.95,1.56 L17.05,1.83 L17.11,2.20 L17.13,2.67 L17.13,3.25 L17.08,3.90 L16.99,4.62 L16.83,5.38 L16.61,6.17 L16.32,6.96 L15.97,7.75 L15.56,8.51 L15.10,9.25 L14.59,9.94 L14.03,10.56 L13.41,11.09 L12.76,11.54 L12.11,11.90 L11.48,12.18 L10.92,12.39 L10.44,12.54 L10.07,12.63 L9.79,12.65 L9.60,12.60 L9.47,12.45 L9.38,12.19 L9.31,11.81 L9.25,11.31 L9.20,10.71 L9.20,10.02 L9.25,9.28 L9.39,8.51 L9.62,7.73 L9.94,6.96 L10.36,6.21 L10.84,5.49 L11.37,4.79 L11.94,4.14 L12.54,3.55 L13.17,3.02 L13.80,2.57 L14.41,2.18 L14.99,1.87 L15.50,1.63 L15.95,1.45 L16.31,1.35 L16.59,1.33 Z"/><path d="M17.3,0.2 L18.0,3.3 L15.9,2.9 L14.7,1.3 Z"/><ellipse cx="9.3" cy="13.2" rx="1.0" ry="0.9"/><g fill="none" stroke-width="1.3" stroke-linecap="round"><path d="M9.0,12.8 C8.4,12.2 7.8,11.8 7.4,11.4"/><ellipse cx="6.4" cy="10.4" rx="1.35" ry="1.25"/><path d="M8.8,13.2 C6.8,12.8 4.6,12.4 2.4,12.2 C1.4,12.1 1.2,12.9 1.8,13.2"/><path d="M8.8,13.6 C6.6,14.4 4,15.4 1.2,16.2 C0.4,16.4 0.2,15.6 0.8,15.4"/><path d="M9.0,14.0 C8.4,14.6 7.8,15.0 7.2,15.2"/><ellipse cx="6.2" cy="16.0" rx="1.25" ry="1.2"/><path d="M9.4,14.0 C8.6,15.8 7.0,17.4 4.6,18.3"/><path d="M9.8,13.8 C11.0,14.6 12.2,15.4 12.6,16.4 C12.8,17.2 11.8,17.4 11.6,16.6"/></g></g>
<g transform="translate(316.50,79.90) scale(0.8278,0.9400)" fill="#000" stroke="#000" stroke-width="1.5" opacity="0.62" stroke-linejoin="round"><path d="M1.4,0 C3,0.8 4.6,1.6 6.3,2.4 C8.5,3.3 10.5,4.1 12,4.8 C13.4,5.5 14.4,6.2 15.2,6.9 C16.4,8.2 17.1,9.6 17.3,11 C17.5,12.4 17.5,13.8 17.4,15 L17.0,15 C17,13.8 16.9,12.6 16.4,11.7 C15.6,10.2 14.5,9.0 13.2,8.3 C11.8,7.5 10.2,6.8 8.7,6.1 C7.2,5.4 5.8,4.7 4.6,3.9 C3.4,3.1 2.2,2.1 1.2,1.1 Z"/><ellipse cx="13.6" cy="8.9" rx="0.8" ry="0.6"/><g fill="none" stroke-width="0.45" stroke-linecap="round"><path d="M1.6,0.4 C1.1,0.2 0.6,0.1 0.1,0"/><path d="M1.4,0.8 C0.9,1.4 0.5,2.2 0.3,3.0"/></g></g>
<g transform="translate(336.20,39.90) scale(0.8143,0.7200)" fill="#000" stroke="#000" stroke-width="1.0" opacity="0.62" stroke-linejoin="round"><path d="M0,0.4 L3,2.0 C7,1.4 14,1.1 18.5,1.3 C20,1.4 21,1.9 21,2.3 C20.2,3.2 17.5,4.3 13,4.4 C8.5,4.5 5.5,3.6 3,2.7 L0.2,4.4 L1.3,2.3 Z"/></g>
<g transform="translate(336.70,44.20) scale(0.7667,0.8333)" fill="#000" stroke="#000" stroke-width="1.5" opacity="0.62" stroke-linejoin="round"><path d="M1.4,0 C3,0.8 4.6,1.6 6.3,2.4 C8.5,3.3 10.5,4.1 12,4.8 C13.4,5.5 14.4,6.2 15.2,6.9 C16.4,8.2 17.1,9.6 17.3,11 C17.5,12.4 17.5,13.8 17.4,15 L17.0,15 C17,13.8 16.9,12.6 16.4,11.7 C15.6,10.2 14.5,9.0 13.2,8.3 C11.8,7.5 10.2,6.8 8.7,6.1 C7.2,5.4 5.8,4.7 4.6,3.9 C3.4,3.1 2.2,2.1 1.2,1.1 Z"/><ellipse cx="13.6" cy="8.9" rx="0.8" ry="0.6"/><g fill="none" stroke-width="0.45" stroke-linecap="round"><path d="M1.6,0.4 C1.1,0.2 0.6,0.1 0.1,0"/><path d="M1.4,0.8 C0.9,1.4 0.5,2.2 0.3,3.0"/></g></g>
<g transform="translate(353.20,68.65) scale(0.8238,0.7200)" fill="#000" stroke="#000" stroke-width="1.0" opacity="0.62" stroke-linejoin="round"><path d="M0,0.4 L3,2.0 C7,1.4 14,1.1 18.5,1.3 C20,1.4 21,1.9 21,2.3 C20.2,3.2 17.5,4.3 13,4.4 C8.5,4.5 5.5,3.6 3,2.7 L0.2,4.4 L1.3,2.3 Z"/></g>
<g transform="translate(353.70,73.40) scale(0.8287,0.8649)" fill="#000" stroke="#000" stroke-width="1.0" opacity="0.62" stroke-linejoin="round"><path d="M16.80,1.40 L16.95,1.56 L17.05,1.83 L17.11,2.20 L17.13,2.67 L17.13,3.25 L17.08,3.90 L16.99,4.62 L16.83,5.38 L16.61,6.17 L16.32,6.96 L15.97,7.75 L15.56,8.51 L15.10,9.25 L14.59,9.94 L14.03,10.56 L13.41,11.09 L12.76,11.54 L12.11,11.90 L11.48,12.18 L10.92,12.39 L10.44,12.54 L10.07,12.63 L9.79,12.65 L9.60,12.60 L9.47,12.45 L9.38,12.19 L9.31,11.81 L9.25,11.31 L9.20,10.71 L9.20,10.02 L9.25,9.28 L9.39,8.51 L9.62,7.73 L9.94,6.96 L10.36,6.21 L10.84,5.49 L11.37,4.79 L11.94,4.14 L12.54,3.55 L13.17,3.02 L13.80,2.57 L14.41,2.18 L14.99,1.87 L15.50,1.63 L15.95,1.45 L16.31,1.35 L16.59,1.33 Z"/><path d="M17.3,0.2 L18.0,3.3 L15.9,2.9 L14.7,1.3 Z"/><ellipse cx="9.3" cy="13.2" rx="1.0" ry="0.9"/><g fill="none" stroke-width="1.3" stroke-linecap="round"><path d="M9.0,12.8 C8.4,12.2 7.8,11.8 7.4,11.4"/><ellipse cx="6.4" cy="10.4" rx="1.35" ry="1.25"/><path d="M8.8,13.2 C6.8,12.8 4.6,12.4 2.4,12.2 C1.4,12.1 1.2,12.9 1.8,13.2"/><path d="M8.8,13.6 C6.6,14.4 4,15.4 1.2,16.2 C0.4,16.4 0.2,15.6 0.8,15.4"/><path d="M9.0,14.0 C8.4,14.6 7.8,15.0 7.2,15.2"/><ellipse cx="6.2" cy="16.0" rx="1.25" ry="1.2"/><path d="M9.4,14.0 C8.6,15.8 7.0,17.4 4.6,18.3"/><path d="M9.8,13.8 C11.0,14.6 12.2,15.4 12.6,16.4 C12.8,17.2 11.8,17.4 11.6,16.6"/></g></g>
<g transform="translate(381.70,30.90) scale(0.7901,0.7568)" fill="#000" stroke="#000" stroke-width="1.0" opacity="0.62" stroke-linejoin="round"><path d="M16.80,1.40 L16.95,1.56 L17.05,1.83 L17.11,2.20 L17.13,2.67 L17.13,3.25 L17.08,3.90 L16.99,4.62 L16.83,5.38 L16.61,6.17 L16.32,6.96 L15.97,7.75 L15.56,8.51 L15.10,9.25 L14.59,9.94 L14.03,10.56 L13.41,11.09 L12.76,11.54 L12.11,11.90 L11.48,12.18 L10.92,12.39 L10.44,12.54 L10.07,12.63 L9.79,12.65 L9.60,12.60 L9.47,12.45 L9.38,12.19 L9.31,11.81 L9.25,11.31 L9.20,10.71 L9.20,10.02 L9.25,9.28 L9.39,8.51 L9.62,7.73 L9.94,6.96 L10.36,6.21 L10.84,5.49 L11.37,4.79 L11.94,4.14 L12.54,3.55 L13.17,3.02 L13.80,2.57 L14.41,2.18 L14.99,1.87 L15.50,1.63 L15.95,1.45 L16.31,1.35 L16.59,1.33 Z"/><path d="M17.3,0.2 L18.0,3.3 L15.9,2.9 L14.7,1.3 Z"/><ellipse cx="9.3" cy="13.2" rx="1.0" ry="0.9"/><g fill="none" stroke-width="1.3" stroke-linecap="round"><path d="M9.0,12.8 C8.4,12.2 7.8,11.8 7.4,11.4"/><ellipse cx="6.4" cy="10.4" rx="1.35" ry="1.25"/><path d="M8.8,13.2 C6.8,12.8 4.6,12.4 2.4,12.2 C1.4,12.1 1.2,12.9 1.8,13.2"/><path d="M8.8,13.6 C6.6,14.4 4,15.4 1.2,16.2 C0.4,16.4 0.2,15.6 0.8,15.4"/><path d="M9.0,14.0 C8.4,14.6 7.8,15.0 7.2,15.2"/><ellipse cx="6.2" cy="16.0" rx="1.25" ry="1.2"/><path d="M9.4,14.0 C8.6,15.8 7.0,17.4 4.6,18.3"/><path d="M9.8,13.8 C11.0,14.6 12.2,15.4 12.6,16.4 C12.8,17.2 11.8,17.4 11.6,16.6"/></g></g>
<g transform="translate(381.70,45.70) scale(0.7901,0.7568)" fill="#000" stroke="#000" stroke-width="1.0" opacity="0.62" stroke-linejoin="round"><path d="M16.80,1.40 L16.95,1.56 L17.05,1.83 L17.11,2.20 L17.13,2.67 L17.13,3.25 L17.08,3.90 L16.99,4.62 L16.83,5.38 L16.61,6.17 L16.32,6.96 L15.97,7.75 L15.56,8.51 L15.10,9.25 L14.59,9.94 L14.03,10.56 L13.41,11.09 L12.76,11.54 L12.11,11.90 L11.48,12.18 L10.92,12.39 L10.44,12.54 L10.07,12.63 L9.79,12.65 L9.60,12.60 L9.47,12.45 L9.38,12.19 L9.31,11.81 L9.25,11.31 L9.20,10.71 L9.20,10.02 L9.25,9.28 L9.39,8.51 L9.62,7.73 L9.94,6.96 L10.36,6.21 L10.84,5.49 L11.37,4.79 L11.94,4.14 L12.54,3.55 L13.17,3.02 L13.80,2.57 L14.41,2.18 L14.99,1.87 L15.50,1.63 L15.95,1.45 L16.31,1.35 L16.59,1.33 Z"/><path d="M17.3,0.2 L18.0,3.3 L15.9,2.9 L14.7,1.3 Z"/><ellipse cx="9.3" cy="13.2" rx="1.0" ry="0.9"/><g fill="none" stroke-width="1.3" stroke-linecap="round"><path d="M9.0,12.8 C8.4,12.2 7.8,11.8 7.4,11.4"/><ellipse cx="6.4" cy="10.4" rx="1.35" ry="1.25"/><path d="M8.8,13.2 C6.8,12.8 4.6,12.4 2.4,12.2 C1.4,12.1 1.2,12.9 1.8,13.2"/><path d="M8.8,13.6 C6.6,14.4 4,15.4 1.2,16.2 C0.4,16.4 0.2,15.6 0.8,15.4"/><path d="M9.0,14.0 C8.4,14.6 7.8,15.0 7.2,15.2"/><ellipse cx="6.2" cy="16.0" rx="1.25" ry="1.2"/><path d="M9.4,14.0 C8.6,15.8 7.0,17.4 4.6,18.3"/><path d="M9.8,13.8 C11.0,14.6 12.2,15.4 12.6,16.4 C12.8,17.2 11.8,17.4 11.6,16.6"/></g></g>
<g transform="translate(400.20,69.15) scale(0.7905,0.7200)" fill="#000" stroke="#000" stroke-width="1.0" opacity="0.62" stroke-linejoin="round"><path d="M0,0.4 L3,2.0 C7,1.4 14,1.1 18.5,1.3 C20,1.4 21,1.9 21,2.3 C20.2,3.2 17.5,4.3 13,4.4 C8.5,4.5 5.5,3.6 3,2.7 L0.2,4.4 L1.3,2.3 Z"/></g>
<g transform="translate(400.20,77.60) scale(0.7905,0.7200)" fill="#000" stroke="#000" stroke-width="1.0" opacity="0.62" stroke-linejoin="round"><path d="M0,0.4 L3,2.0 C7,1.4 14,1.1 18.5,1.3 C20,1.4 21,1.9 21,2.3 C20.2,3.2 17.5,4.3 13,4.4 C8.5,4.5 5.5,3.6 3,2.7 L0.2,4.4 L1.3,2.3 Z"/></g>
<g transform="translate(420.90,38.40) scale(0.7667,0.5600)" fill="#000" stroke="#000" stroke-width="1.5" opacity="0.62" stroke-linejoin="round"><path d="M1.4,0 C3,0.8 4.6,1.6 6.3,2.4 C8.5,3.3 10.5,4.1 12,4.8 C13.4,5.5 14.4,6.2 15.2,6.9 C16.4,8.2 17.1,9.6 17.3,11 C17.5,12.4 17.5,13.8 17.4,15 L17.0,15 C17,13.8 16.9,12.6 16.4,11.7 C15.6,10.2 14.5,9.0 13.2,8.3 C11.8,7.5 10.2,6.8 8.7,6.1 C7.2,5.4 5.8,4.7 4.6,3.9 C3.4,3.1 2.2,2.1 1.2,1.1 Z"/><ellipse cx="13.6" cy="8.9" rx="0.8" ry="0.6"/><g fill="none" stroke-width="0.45" stroke-linecap="round"><path d="M1.6,0.4 C1.1,0.2 0.6,0.1 0.1,0"/><path d="M1.4,0.8 C0.9,1.4 0.5,2.2 0.3,3.0"/></g></g>
<g transform="translate(420.90,46.80) scale(0.7667,0.7333)" fill="#000" stroke="#000" stroke-width="1.5" opacity="0.62" stroke-linejoin="round"><path d="M1.4,0 C3,0.8 4.6,1.6 6.3,2.4 C8.5,3.3 10.5,4.1 12,4.8 C13.4,5.5 14.4,6.2 15.2,6.9 C16.4,8.2 17.1,9.6 17.3,11 C17.5,12.4 17.5,13.8 17.4,15 L17.0,15 C17,13.8 16.9,12.6 16.4,11.7 C15.6,10.2 14.5,9.0 13.2,8.3 C11.8,7.5 10.2,6.8 8.7,6.1 C7.2,5.4 5.8,4.7 4.6,3.9 C3.4,3.1 2.2,2.1 1.2,1.1 Z"/><ellipse cx="13.6" cy="8.9" rx="0.8" ry="0.6"/><g fill="none" stroke-width="0.45" stroke-linecap="round"><path d="M1.6,0.4 C1.1,0.2 0.6,0.1 0.1,0"/><path d="M1.4,0.8 C0.9,1.4 0.5,2.2 0.3,3.0"/></g></g>
<g transform="translate(439.10,61.30) scale(0.8232,0.8703)" fill="#000" stroke="#000" stroke-width="1.0" opacity="0.62" stroke-linejoin="round"><path d="M16.80,1.40 L16.95,1.56 L17.05,1.83 L17.11,2.20 L17.13,2.67 L17.13,3.25 L17.08,3.90 L16.99,4.62 L16.83,5.38 L16.61,6.17 L16.32,6.96 L15.97,7.75 L15.56,8.51 L15.10,9.25 L14.59,9.94 L14.03,10.56 L13.41,11.09 L12.76,11.54 L12.11,11.90 L11.48,12.18 L10.92,12.39 L10.44,12.54 L10.07,12.63 L9.79,12.65 L9.60,12.60 L9.47,12.45 L9.38,12.19 L9.31,11.81 L9.25,11.31 L9.20,10.71 L9.20,10.02 L9.25,9.28 L9.39,8.51 L9.62,7.73 L9.94,6.96 L10.36,6.21 L10.84,5.49 L11.37,4.79 L11.94,4.14 L12.54,3.55 L13.17,3.02 L13.80,2.57 L14.41,2.18 L14.99,1.87 L15.50,1.63 L15.95,1.45 L16.31,1.35 L16.59,1.33 Z"/><path d="M17.3,0.2 L18.0,3.3 L15.9,2.9 L14.7,1.3 Z"/><ellipse cx="9.3" cy="13.2" rx="1.0" ry="0.9"/><g fill="none" stroke-width="1.3" stroke-linecap="round"><path d="M9.0,12.8 C8.4,12.2 7.8,11.8 7.4,11.4"/><ellipse cx="6.4" cy="10.4" rx="1.35" ry="1.25"/><path d="M8.8,13.2 C6.8,12.8 4.6,12.4 2.4,12.2 C1.4,12.1 1.2,12.9 1.8,13.2"/><path d="M8.8,13.6 C6.6,14.4 4,15.4 1.2,16.2 C0.4,16.4 0.2,15.6 0.8,15.4"/><path d="M9.0,14.0 C8.4,14.6 7.8,15.0 7.2,15.2"/><ellipse cx="6.2" cy="16.0" rx="1.25" ry="1.2"/><path d="M9.4,14.0 C8.6,15.8 7.0,17.4 4.6,18.3"/><path d="M9.8,13.8 C11.0,14.6 12.2,15.4 12.6,16.4 C12.8,17.2 11.8,17.4 11.6,16.6"/></g></g>
<g transform="translate(438.30,78.20) scale(0.8278,0.9400)" fill="#000" stroke="#000" stroke-width="1.5" opacity="0.62" stroke-linejoin="round"><path d="M1.4,0 C3,0.8 4.6,1.6 6.3,2.4 C8.5,3.3 10.5,4.1 12,4.8 C13.4,5.5 14.4,6.2 15.2,6.9 C16.4,8.2 17.1,9.6 17.3,11 C17.5,12.4 17.5,13.8 17.4,15 L17.0,15 C17,13.8 16.9,12.6 16.4,11.7 C15.6,10.2 14.5,9.0 13.2,8.3 C11.8,7.5 10.2,6.8 8.7,6.1 C7.2,5.4 5.8,4.7 4.6,3.9 C3.4,3.1 2.2,2.1 1.2,1.1 Z"/><ellipse cx="13.6" cy="8.9" rx="0.8" ry="0.6"/><g fill="none" stroke-width="0.45" stroke-linecap="round"><path d="M1.6,0.4 C1.1,0.2 0.6,0.1 0.1,0"/><path d="M1.4,0.8 C0.9,1.4 0.5,2.2 0.3,3.0"/></g></g>
<g transform="translate(456.90,39.15) scale(0.8238,0.7200)" fill="#000" stroke="#000" stroke-width="1.0" opacity="0.62" stroke-linejoin="round"><path d="M0,0.4 L3,2.0 C7,1.4 14,1.1 18.5,1.3 C20,1.4 21,1.9 21,2.3 C20.2,3.2 17.5,4.3 13,4.4 C8.5,4.5 5.5,3.6 3,2.7 L0.2,4.4 L1.3,2.3 Z"/></g>
<g transform="translate(458.20,42.90) scale(0.7889,0.8600)" fill="#000" stroke="#000" stroke-width="1.5" opacity="0.62" stroke-linejoin="round"><path d="M1.4,0 C3,0.8 4.6,1.6 6.3,2.4 C8.5,3.3 10.5,4.1 12,4.8 C13.4,5.5 14.4,6.2 15.2,6.9 C16.4,8.2 17.1,9.6 17.3,11 C17.5,12.4 17.5,13.8 17.4,15 L17.0,15 C17,13.8 16.9,12.6 16.4,11.7 C15.6,10.2 14.5,9.0 13.2,8.3 C11.8,7.5 10.2,6.8 8.7,6.1 C7.2,5.4 5.8,4.7 4.6,3.9 C3.4,3.1 2.2,2.1 1.2,1.1 Z"/><ellipse cx="13.6" cy="8.9" rx="0.8" ry="0.6"/><g fill="none" stroke-width="0.45" stroke-linecap="round"><path d="M1.6,0.4 C1.1,0.2 0.6,0.1 0.1,0"/><path d="M1.4,0.8 C0.9,1.4 0.5,2.2 0.3,3.0"/></g></g>
<g transform="translate(475.00,67.35) scale(0.8000,0.7200)" fill="#000" stroke="#000" stroke-width="1.0" opacity="0.62" stroke-linejoin="round"><path d="M0,0.4 L3,2.0 C7,1.4 14,1.1 18.5,1.3 C20,1.4 21,1.9 21,2.3 C20.2,3.2 17.5,4.3 13,4.4 C8.5,4.5 5.5,3.6 3,2.7 L0.2,4.4 L1.3,2.3 Z"/></g>
<g transform="translate(476.30,72.60) scale(0.8232,0.8378)" fill="#000" stroke="#000" stroke-width="1.0" opacity="0.62" stroke-linejoin="round"><path d="M16.80,1.40 L16.95,1.56 L17.05,1.83 L17.11,2.20 L17.13,2.67 L17.13,3.25 L17.08,3.90 L16.99,4.62 L16.83,5.38 L16.61,6.17 L16.32,6.96 L15.97,7.75 L15.56,8.51 L15.10,9.25 L14.59,9.94 L14.03,10.56 L13.41,11.09 L12.76,11.54 L12.11,11.90 L11.48,12.18 L10.92,12.39 L10.44,12.54 L10.07,12.63 L9.79,12.65 L9.60,12.60 L9.47,12.45 L9.38,12.19 L9.31,11.81 L9.25,11.31 L9.20,10.71 L9.20,10.02 L9.25,9.28 L9.39,8.51 L9.62,7.73 L9.94,6.96 L10.36,6.21 L10.84,5.49 L11.37,4.79 L11.94,4.14 L12.54,3.55 L13.17,3.02 L13.80,2.57 L14.41,2.18 L14.99,1.87 L15.50,1.63 L15.95,1.45 L16.31,1.35 L16.59,1.33 Z"/><path d="M17.3,0.2 L18.0,3.3 L15.9,2.9 L14.7,1.3 Z"/><ellipse cx="9.3" cy="13.2" rx="1.0" ry="0.9"/><g fill="none" stroke-width="1.3" stroke-linecap="round"><path d="M9.0,12.8 C8.4,12.2 7.8,11.8 7.4,11.4"/><ellipse cx="6.4" cy="10.4" rx="1.35" ry="1.25"/><path d="M8.8,13.2 C6.8,12.8 4.6,12.4 2.4,12.2 C1.4,12.1 1.2,12.9 1.8,13.2"/><path d="M8.8,13.6 C6.6,14.4 4,15.4 1.2,16.2 C0.4,16.4 0.2,15.6 0.8,15.4"/><path d="M9.0,14.0 C8.4,14.6 7.8,15.0 7.2,15.2"/><ellipse cx="6.2" cy="16.0" rx="1.25" ry="1.2"/><path d="M9.4,14.0 C8.6,15.8 7.0,17.4 4.6,18.3"/><path d="M9.8,13.8 C11.0,14.6 12.2,15.4 12.6,16.4 C12.8,17.2 11.8,17.4 11.6,16.6"/></g></g>
<text transform="translate(506.3,110.0) scale(0.9091,1)" font-size="8.03" fill="#000">Mortality</text>
<rect x="506.7" y="115.00" width="11.1" height="10.4" fill="#2B83BA"/>
<text transform="translate(521.9,122.70) scale(0.9091,1)" font-size="6.93" fill="#000">Not debris</text>
<rect x="506.7" y="126.75" width="11.1" height="10.4" fill="#ABDDA4"/>
<text transform="translate(521.9,134.45) scale(0.9091,1)" font-size="6.93" fill="#000">Indeterminate</text>
<rect x="506.7" y="138.50" width="11.1" height="10.4" fill="#FDAE61"/>
<text transform="translate(521.9,146.20) scale(0.9091,1)" font-size="6.93" fill="#000">Probable debris</text>
<rect x="506.7" y="150.25" width="11.1" height="10.4" fill="#D7191C"/>
<text transform="translate(521.9,157.95) scale(0.9091,1)" font-size="6.93" fill="#000">Known debris</text>
</svg></body></html>
